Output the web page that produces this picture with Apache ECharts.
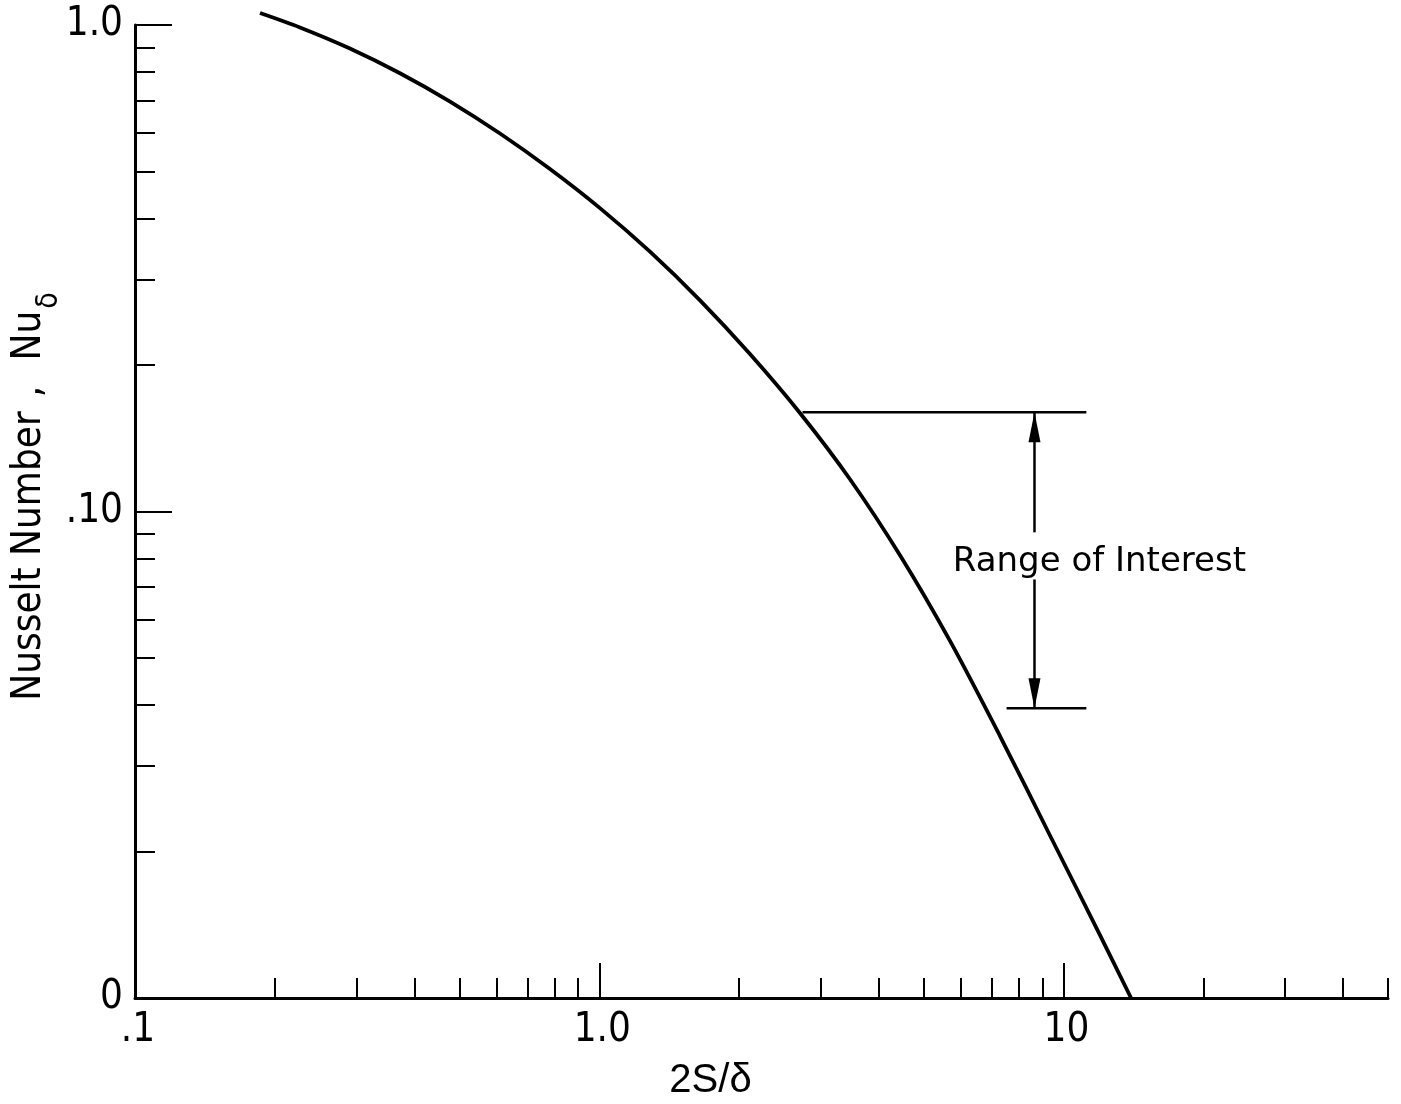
<!DOCTYPE html>
<html>
<head>
<meta charset="utf-8">
<script src="https://cdn.jsdelivr.net/npm/echarts@6/dist/echarts.min.js"></script>
<style>
  html, body { margin: 0; padding: 0; background: #fff; }
  #chart { width: 1401px; height: 1104px; }
</style>
</head>
<body>
<div id="chart"></div>
<script>
// Nusselt number against plate spacing ratio 2S/δ, log-log
const spacingRatio = [0.1859, 0.2266, 0.2904, 0.3722, 0.4771, 0.6113, 0.7832, 1.0037, 1.2861, 1.6484, 2.1119, 2.7059, 3.4683, 4.4446, 5.6952, 7.2978, 9.3522, 11.984, 13.98];
const nusseltNumber = [1.0584, 0.9887, 0.8948, 0.7958, 0.6959, 0.5983, 0.5058, 0.4203, 0.3420, 0.2717, 0.2107, 0.1594, 0.1165, 0.0813, 0.0542, 0.03455, 0.02158, 0.01347, 0.0100];

// "Range of Interest" bracket
const rangeTop = 0.16;
const rangeBottom = 0.0394;
const rangeTopSpan = [2.74, 11.2];
const rangeBottomSpan = [7.54, 11.2];
const arrowX = 8.66;
const shaftGap = [0.0906, 0.0725];
const rangeLabelAt = [11.95, 0.0786];
const rangeLabel = 'Range of Interest';

// axis ticks and labels
const xMinorTicks = [0.2, 0.3, 0.4, 0.5, 0.6, 0.7, 0.8, 0.9, 2, 3, 4, 5, 6, 7, 8, 9, 20, 30, 40, 50];
const xMajorTicks = [1, 10];
const xLabelValues = [0.1, 1, 10];
const xLabelTexts = ['.1', '1.0', '10'];
const yMinorTicks = [0.02, 0.03, 0.04, 0.05, 0.06, 0.07, 0.08, 0.09, 0.2, 0.3, 0.4, 0.5, 0.6, 0.7, 0.8, 0.9];
const yMajorTicks = [0.1, 1];
const yLabelValues = [0.01, 0.1, 1];
const yLabelTexts = ['0', '.10', '1.0'];

const xRange = [0.1, 50];
const yRange = [0.01, 1];

const INK = '#000';
const NARROW = "'Liberation Sans Narrow', 'DejaVu Sans Condensed', 'Liberation Sans', sans-serif";

function pickLabel(values, texts) {
  return function (v) {
    for (let i = 0; i < values.length; i++) {
      if (Math.abs(Math.log10(v) - Math.log10(values[i])) < 1e-6) return texts[i];
    }
    return '';
  };
}

const curve = spacingRatio.map((x, i) => [x, nusseltNumber[i]]);

function segment(data, width) {
  return {
    type: 'line', data: data, symbol: 'none', silent: true, clip: false,
    lineStyle: { color: INK, width: width, opacity: 1 }, z: 3
  };
}

const chart = echarts.init(document.getElementById('chart'), null, { renderer: 'canvas' });

chart.setOption({
  animation: false,
  backgroundColor: '#fff',
  grid: { left: 135, right: 13, top: 25, bottom: 106, containLabel: false, outerBoundsMode: 'none' },
  xAxis: [
    {
      type: 'log', logBase: 10, min: xRange[0], max: xRange[1],
      position: 'bottom',
      axisLine: { show: true, lineStyle: { color: INK, width: 3 } },
      axisTick: { show: true, inside: true, length: 20, customValues: xMinorTicks, lineStyle: { color: INK, width: 2 } },
      axisLabel: {
        show: true, customValues: xLabelValues, formatter: pickLabel(xLabelValues, xLabelTexts),
        fontFamily: NARROW, fontSize: 40, color: INK, margin: 13, padding: [0, 0, 0, 6]
      },
      splitLine: { show: false },
      minorTick: { show: false },
      name: '2S/δ', nameLocation: 'middle', nameGap: 63, nameMoveOverlap: false,
      nameTextStyle: { fontFamily: "'Liberation Sans', sans-serif", fontSize: 40, color: INK, padding: [0, 102, 0, 0] }
    },
    {
      type: 'log', logBase: 10, min: xRange[0], max: xRange[1],
      position: 'bottom',
      axisLine: { show: false },
      axisTick: { show: true, inside: true, length: 35, customValues: xMajorTicks, lineStyle: { color: INK, width: 2 } },
      axisLabel: { show: false },
      splitLine: { show: false }
    }
  ],
  yAxis: [
    {
      type: 'log', logBase: 10, min: yRange[0], max: yRange[1],
      position: 'left',
      axisLine: { show: true, lineStyle: { color: INK, width: 3 } },
      axisTick: { show: true, inside: true, length: 20, customValues: yMinorTicks, lineStyle: { color: INK, width: 2 } },
      axisLabel: {
        show: true, customValues: yLabelValues, formatter: pickLabel(yLabelValues, yLabelTexts),
        fontFamily: NARROW, fontSize: 40, color: INK, margin: 12
      },
      splitLine: { show: false },
      minorTick: { show: false },
      name: '{t|Nusselt Number}{c|, }{g|Nu}{s|δ}',
      nameLocation: 'middle', nameGap: 85, nameMoveOverlap: false,
      nameTextStyle: {
        color: INK,
        padding: [0, 0, 0, 30],
        rich: {
          t: { fontFamily: NARROW, fontSize: 40, color: INK, lineHeight: 40, verticalAlign: 'top' },
          c: { fontFamily: NARROW, fontSize: 40, color: INK, lineHeight: 40, verticalAlign: 'top', padding: [0, 0, 0, 14] },
          g: { fontFamily: NARROW, fontSize: 40, color: INK, lineHeight: 40, verticalAlign: 'top', padding: [0, 0, 0, 14] },
          s: { fontFamily: NARROW, fontSize: 30, color: INK, lineHeight: 30, verticalAlign: 'top', padding: [24, 0, 0, 2] }
        }
      }
    },
    {
      type: 'log', logBase: 10, min: yRange[0], max: yRange[1],
      position: 'left',
      axisLine: { show: false },
      axisTick: { show: true, inside: true, length: 37, customValues: yMajorTicks, lineStyle: { color: INK, width: 2 } },
      axisLabel: { show: false },
      splitLine: { show: false }
    }
  ],
  series: [
    {
      name: 'Nu', type: 'line', data: curve, smooth: 0.3, symbol: 'none', silent: true, clip: false,
      lineStyle: { color: INK, width: 3.8 }, z: 4
    },
    segment([[rangeTopSpan[0], rangeTop], [rangeTopSpan[1], rangeTop]], 2.5),
    segment([[rangeBottomSpan[0], rangeBottom], [rangeBottomSpan[1], rangeBottom]], 2.5),
    segment([[arrowX, rangeTop], [arrowX, shaftGap[0]]], 2.5),
    segment([[arrowX, shaftGap[1]], [arrowX, rangeBottom]], 2.5),
    {
      type: 'scatter', silent: true, clip: false, symbol: 'triangle', symbolSize: [12, 30],
      itemStyle: { color: INK, opacity: 1 },
      data: [
        { value: [arrowX, rangeTop], symbolRotate: 0, symbolOffset: [0, 15] },
        { value: [arrowX, rangeBottom], symbolRotate: 180, symbolOffset: [0, -15] }
      ],
      z: 5
    },
    {
      type: 'scatter', silent: true, clip: false, symbolSize: 1,
      itemStyle: { color: 'rgba(0,0,0,0)', opacity: 1 },
      data: [rangeLabelAt],
      label: {
        show: true, position: 'inside', formatter: rangeLabel, opacity: 1,
        fontFamily: "'DejaVu Sans', sans-serif", fontSize: 34, color: INK,
        textBorderWidth: 0
      },
      z: 6
    }
  ]
});
</script>
</body>
</html>
